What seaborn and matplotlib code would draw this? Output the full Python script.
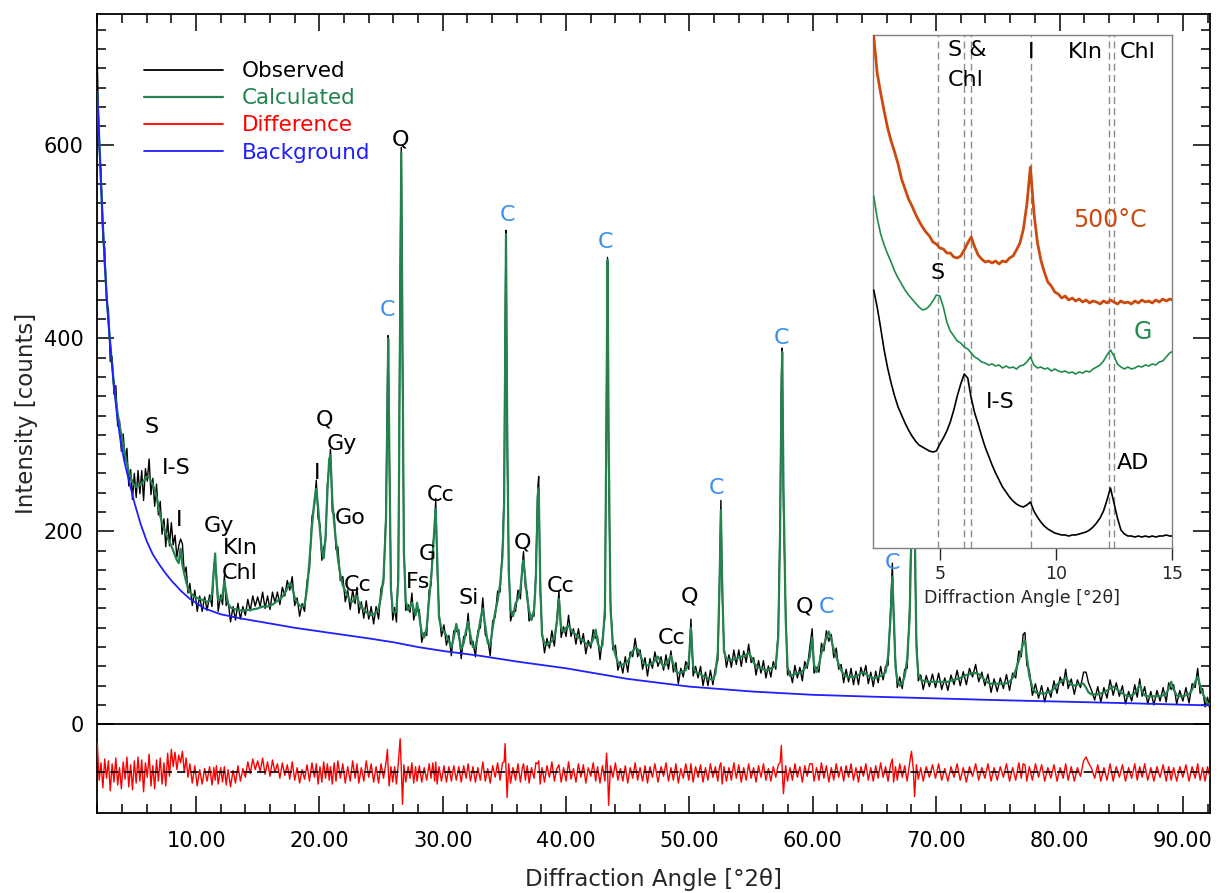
import numpy as np
import matplotlib
matplotlib.use("Agg")
import matplotlib.pyplot as plt
import seaborn as sns
from matplotlib.lines import Line2D
from matplotlib.ticker import MultipleLocator, FixedLocator, FormatStrFormatter

# ---------------- main pattern data ----------------
TWO_THETA = [
    2.00, 2.15, 2.30, 2.45, 2.60, 2.75, 2.90, 3.05, 3.20, 3.35,
    3.50, 3.65, 3.80, 3.95, 4.10, 4.25, 4.40, 4.55, 4.70, 4.85, 5.00,
    5.15, 5.30, 5.45, 5.60, 5.75, 5.90, 6.05, 6.20, 6.35, 6.50,
    6.65, 6.80, 6.95, 7.10, 7.25, 7.40, 7.55, 7.70, 7.85, 8.00,
    8.15, 8.30, 8.45, 8.60, 8.75, 8.90, 9.05, 9.20, 9.35, 9.50,
    9.70, 9.90, 10.10, 10.30, 10.50, 10.70, 10.90, 11.10, 11.30, 11.45,
    11.55, 11.65, 11.80, 12.00, 12.15, 12.30, 12.45, 12.60, 12.80, 13.00,
    13.20, 13.40, 13.60, 13.80, 14.00, 14.20, 14.40, 14.60, 14.80, 15.00,
    15.20, 15.40, 15.60, 15.80, 16.00, 16.20, 16.40, 16.60, 16.80, 17.00,
    17.20, 17.40, 17.60, 17.80, 18.00, 18.20, 18.40, 18.60, 18.80, 19.00,
    19.20, 19.40, 19.60, 19.75, 19.90, 20.05, 20.20, 20.35, 20.50, 20.65,
    20.80, 20.90, 21.05, 21.20, 21.35, 21.50, 21.70, 21.90, 22.10, 22.30,
    22.50, 22.70, 22.90, 23.05, 23.20, 23.40, 23.60, 23.80, 24.00, 24.20,
    24.40, 24.60, 24.80, 25.00, 25.20, 25.40, 25.52, 25.58, 25.66, 25.80,
    25.95, 26.10, 26.25, 26.40, 26.55, 26.64, 26.74, 26.85, 27.00, 27.20,
    27.35, 27.50, 27.65, 27.80, 27.92, 28.10, 28.30, 28.50, 28.70, 28.90,
    29.05, 29.20, 29.35, 29.43, 29.55, 29.70, 29.90, 30.10, 30.30, 30.50,
    30.70, 30.90, 31.10, 31.30, 31.50, 31.70, 31.90, 32.06, 32.25, 32.45,
    32.65, 32.85, 33.05, 33.25, 33.45, 33.65, 33.85, 34.05, 34.25, 34.45,
    34.65, 34.85, 34.98, 35.06, 35.13, 35.22, 35.35, 35.50, 35.70, 35.90,
    36.10, 36.30, 36.45, 36.55, 36.70, 36.85, 37.00, 37.20, 37.40, 37.55,
    37.70, 37.78, 37.90, 38.05, 38.25, 38.45, 38.65, 38.85, 39.05, 39.25,
    39.42, 39.60, 39.80, 40.00, 40.20, 40.40, 40.60, 40.80, 41.00, 41.20,
    41.40, 41.60, 41.80, 42.00, 42.20, 42.40, 42.55, 42.75, 42.95, 43.15,
    43.28, 43.36, 43.45, 43.60, 43.80, 44.00, 44.20, 44.40, 44.60, 44.80,
    45.00, 45.20, 45.40, 45.60, 45.80, 46.00, 46.20, 46.40, 46.60, 46.80,
    47.00, 47.20, 47.45, 47.70, 47.90, 48.10, 48.30, 48.50, 48.70, 48.90,
    49.10, 49.30, 49.50, 49.70, 49.95, 50.12, 50.30, 50.50, 50.70, 50.90,
    51.10, 51.30, 51.50, 51.70, 51.90, 52.10, 52.30, 52.45, 52.55, 52.65,
    52.80, 53.00, 53.20, 53.40, 53.60, 53.80, 54.00, 54.20, 54.40, 54.60,
    54.80, 55.00, 55.20, 55.40, 55.60, 55.80, 56.00, 56.20, 56.40, 56.60,
    56.80, 57.00, 57.20, 57.35, 57.45, 57.52, 57.62, 57.80, 57.95, 58.15,
    58.35, 58.55, 58.75, 58.95, 59.15, 59.35, 59.55, 59.75, 59.95, 60.10,
    60.30, 60.50, 60.70, 60.90, 61.10, 61.30, 61.50, 61.70, 61.90, 62.10,
    62.30, 62.50, 62.70, 62.90, 63.10, 63.30, 63.50, 63.70, 63.90, 64.10,
    64.30, 64.50, 64.70, 64.90, 65.10, 65.30, 65.50, 65.70, 65.90, 66.10,
    66.30, 66.45, 66.55, 66.70, 66.85, 67.05, 67.25, 67.45, 67.65, 67.85,
    68.00, 68.15, 68.25, 68.40, 68.55, 68.75, 68.95, 69.20, 69.45, 69.70,
    69.95, 70.20, 70.45, 70.70, 70.95, 71.20, 71.45, 71.70, 71.95, 72.20,
    72.45, 72.70, 72.95, 73.20, 73.45, 73.70, 73.95, 74.20, 74.45, 74.70,
    74.95, 75.20, 75.45, 75.70, 75.95, 76.20, 76.45, 76.70, 76.90, 77.05,
    77.20, 77.35, 77.55, 77.80, 78.05, 78.30, 78.55, 78.80, 79.05, 79.30,
    79.55, 79.80, 80.05, 80.30, 80.50, 80.70, 80.95, 81.20, 81.45, 81.70,
    81.95, 82.15, 82.35, 82.60, 82.85, 83.10, 83.35, 83.60, 83.85, 84.10,
    84.35, 84.60, 84.85, 85.10, 85.35, 85.60, 85.85, 86.10, 86.30, 86.50,
    86.70, 86.90, 87.15, 87.40, 87.65, 87.90, 88.15, 88.40, 88.65, 88.85,
    89.05, 89.25, 89.50, 89.75, 90.00, 90.25, 90.50, 90.75, 91.00, 91.20,
    91.40, 91.60, 91.80, 92.00, 92.20,
]

CALCULATED = [
    655, 608, 562, 518, 480, 445, 418, 395, 372, 352,
    336, 322, 310, 300, 290, 280, 270, 262, 256, 251, 248,
    246, 247, 248, 250, 252, 255, 257, 256, 252, 248,
    243, 236, 226, 216, 209, 203, 198, 193, 189, 185,
    180, 175, 170, 167, 182, 165, 156, 148, 141, 137,
    134, 132, 131, 130, 129, 128, 127, 128, 135, 160,
    177, 150, 129, 129, 134, 148, 136, 125, 121, 120,
    119, 118.5, 118, 118, 118, 118.5, 118.5, 119, 119.5, 120,
    121, 122, 122, 122, 123, 124, 126, 128, 130, 132,
    136, 141, 146, 142, 131, 126, 123, 122, 124, 140,
    170, 205, 232, 244, 225, 201, 180, 172, 195, 240,
    275, 279, 232, 208, 190, 172, 155, 144, 138, 133,
    128, 127, 131, 133, 126, 122, 119, 116, 114, 113,
    114, 116, 120, 132, 152, 210, 330, 400, 300, 140,
    118, 115, 118, 150, 430, 593, 400, 180, 128, 118,
    122, 126, 119, 113, 126, 112, 95, 90, 100, 130,
    150, 176, 210, 223, 175, 110, 100, 96, 92, 86,
    80, 90, 104, 92, 78, 84, 98, 106, 92, 80,
    80, 92, 108, 120, 102, 84, 82, 100, 116, 128,
    145, 175, 230, 380, 508, 320, 160, 118, 112, 125,
    130, 140, 160, 170, 150, 130, 118, 108, 118, 150,
    235, 245, 150, 92, 84, 82, 84, 86, 90, 105,
    130, 100, 96, 100, 102, 98, 95, 93, 90, 88,
    86, 84, 82, 83, 88, 98, 85, 78, 82, 120,
    330, 481, 300, 120, 82, 72, 64, 61, 62, 63,
    65, 70, 76, 79, 78, 72, 66, 62, 61, 62,
    63, 66, 70, 64, 60, 62, 66, 71, 62, 55,
    53, 54, 55, 56, 65, 100, 60, 54, 53, 52,
    50, 49, 48, 47, 46, 52, 75, 150, 222, 150,
    75, 68, 67, 67, 67, 68, 69, 70, 71, 72,
    74, 70, 64, 61, 59, 58, 57, 56, 56.5, 58,
    59, 62, 90, 200, 330, 386, 250, 110, 60, 50,
    51, 52, 53, 53, 55, 58, 62, 70, 90, 62,
    54, 62, 74, 82, 90, 96, 88, 77, 70, 62,
    56, 52, 50, 49, 49, 49, 50, 51, 53, 54,
    52, 50, 49, 48, 48, 49, 50, 51, 54, 70,
    110, 153, 120, 60, 46, 40, 42, 50, 67, 110,
    200, 300, 220, 80, 52, 46, 45, 44.5, 44, 44,
    44, 44, 44, 44, 44, 45, 46, 47, 48, 49.5,
    51, 52, 53, 53, 52, 49, 46, 43, 42, 42,
    42, 42, 42, 42.5, 44, 48, 56, 66, 76, 84,
    87, 70, 50, 38, 33, 32, 32, 32, 33, 34,
    37, 41, 44, 46, 48, 45, 41, 40, 41, 42,
    42, 38, 33, 31, 31, 31, 32, 33, 35, 37,
    39, 37, 34, 32, 30, 29, 30, 32, 36, 41,
    34, 30, 29, 29, 29, 29, 29, 30, 32, 37,
    44, 36, 30, 29, 29, 30, 31, 36, 44, 49,
    40, 32, 27, 22, 20,
]

DIFFERENCE = [
    30, -8, 10, -16, 14, -6, 12, -19, 9, -10,
    15, -13, 5, -17, 11, -7, 16, -15, 8, -18, 12,
    -11, 16, -9, 13, -20, 10, -5, 19, -14, 7,
    -17, 13, -9, 15, -12, 10, -14, 20, -4, 24,
    6, 21, 3, 18, 10, 22, 0, 15, -5, 9,
    -11, 7, -14, 3, -12, 4, -9, 6, -13, 5,
    -8, 7, -12, 5, -10, 6, -13, 3, -15, 2,
    -11, 7, -9, 4, -5, 11, -1, 14, 3, 12,
    1, 15, -2, 11, -4, 13, 0, 9, -6, 10,
    -3, 8, -7, 11, -8, 5, -11, 3, -7, 8,
    -9, 10, -5, 9, -12, 6, -10, 11, -6, 9,
    -8, 6, -12, 10, -9, 12, -6, 9, -11, 6,
    -9, 12, -6, 9, -11, 5, -9, 12, -5, 9,
    -10, 6, -11, 9, -6, 10, 24, 3, -14, 6,
    -10, 6, -12, 10, 35, 5, -33, 8, -10, 6,
    -6, 10, -11, 6, -9, 7, -10, 5, -8, 9,
    -6, 10, -9, 11, -12, 6, -9, 7, -10, 6,
    -9, 7, -8, 6, -10, 7, -6, 9, -9, 6,
    -10, 5, -8, 11, -9, 4, -11, 7, -5, 10,
    -8, 10, 11, 30, 4, -26, 9, -11, 5, -8,
    9, -10, 5, 9, -8, 7, -11, 5, -6, 10,
    9, 12, -12, 5, -10, 7, -5, 11, -9, 4,
    8, -10, 5, -9, 11, -7, 4, -10, 9, -5,
    8, -11, 5, -4, 10, -9, 6, -11, 7, -9,
    20, 3, -34, 7, -5, 10, -8, 4, -9, 7,
    -11, 5, -6, 10, -8, 5, -9, 7, -11, 6,
    -5, 9, -10, 6, -4, 10, -9, 5, -8, 9,
    -11, 4, -6, 9, -8, 9, -10, 6, -5, 8,
    -10, 5, -8, 9, -5, 6, -9, 7, 10, -12,
    6, -9, 5, -8, 10, -6, 8, -10, 5, -8,
    9, -6, 5, -10, 7, -5, 9, -8, 4, -9,
    6, -5, 8, 10, 28, 4, -22, 7, -9, 5,
    -8, 9, -5, 6, -10, 7, -4, 9, 9, -9,
    5, -8, 10, -6, 7, -10, 5, -8, 9, -5,
    6, -9, 7, -5, 9, -8, 5, -10, 6, -4,
    9, -8, 5, -9, 7, -6, 10, -5, 6, -9,
    8, 14, -10, 6, -8, 9, -5, 7, -9, 10,
    22, 3, -25, 8, -7, 5, -9, 6, -5, 8,
    -6, 9, -8, 4, -9, 6, -5, 9, -8, 5,
    -10, 6, -4, 9, -8, 5, -6, 9, -9, 5,
    -8, 6, -5, 9, -9, 5, -8, 10, -6, 9,
    8, -9, 6, -8, 9, -5, 8, -9, 5, -6,
    8, -9, 5, -6, 9, -8, 6, -9, 5, -4,
    12, 16, 10, 4, -6, 8, -9, 5, -8, 9,
    -9, 6, -5, 8, -9, 5, -6, 9, -8, 6,
    -5, 9, -8, 5, -9, 6, -5, 8, -9, 6,
    -8, 5, -9, 6, -5, 8, -9, 6, -6, 9,
    -8, 5, -9, 6, -5,
]

BG_THETA = [2.0, 2.2, 2.4, 2.6, 2.8, 3.0, 3.3, 3.6, 3.9, 4.2, 4.5, 5.0, 5.5,
            6.0, 6.5, 7.0, 7.5, 8.0, 8.8, 9.5, 10.7, 12.0, 13.5, 15.3, 18.0,
            20.7, 24.0, 26.0, 28.0, 30.0, 33.0, 36.0, 40.0, 45.0, 50.0, 55.0,
            60.0, 65.0, 70.0, 75.0, 80.0, 85.0, 92.2]
BACKGROUND = [655, 590, 530, 478, 435, 400, 357, 320, 292, 272, 256, 230, 208,
              190, 176, 166, 157, 149, 138, 130, 120, 114, 110, 106, 100,
              95, 89, 85, 80, 76, 71, 65, 58, 47, 39, 34,
              30.5, 28.5, 26.8, 25, 23.5, 22, 19.5]

DIFF_OFFSET = -50

PHASE_LABELS = ["S", "I-S", "I", "Gy", "Kln", "Chl", "Q", "Gy", "I", "Go", "Cc",
                "Q", "Fs", "G", "Cc", "Si", "Q", "Cc", "Cc", "Q", "Q"]
PHASE_X = [6.43, 8.38, 8.62, 11.86, 13.56, 13.56, 20.45, 21.83, 19.8, 22.48, 23.13,
           26.61, 27.99, 28.72, 29.85, 32.12, 36.5, 39.58, 48.57, 50.03, 59.35]
PHASE_Y = [308, 266, 212, 205, 183, 157, 316, 291, 260, 214, 144.5,
           606, 147.6, 176.6, 237.8, 131, 188, 143.4, 89.5, 132, 121.7]
STD_X = [25.56, 35.28, 43.22, 52.2, 57.48, 61.13, 66.48]
STD_Y = [429, 528, 500, 245, 400.6, 121.7, 167]

# ---------------- inset data (oriented clay mounts) ----------------
INSET_X = np.round(2.15 + 0.15 * np.arange(87), 2)
HEATED_500C = [
    512, 475, 455, 437, 420, 407, 396, 384, 369, 359,
    349, 342, 334, 327, 321, 316, 312, 306, 304, 300,
    299, 295, 295, 291, 290, 292, 298, 305, 311, 301,
    293, 289, 286, 287, 285, 287, 284, 287, 286, 290,
    292, 298, 305, 319, 344, 381, 336, 306, 288, 276,
    266, 262, 256, 254, 250, 252, 248, 250, 247, 249,
    246, 248, 245, 247, 246, 244, 247, 245, 248, 246,
    244, 247, 245, 246, 244, 247, 245, 248, 246, 247,
    245, 248, 246, 249, 247, 249, 248,
]
GLYCOLATED = [
    352, 330, 314, 303, 294, 286, 277, 270, 264, 258,
    253, 249, 245, 241, 238, 239, 242, 247, 253, 252,
    241, 226, 217, 212, 207, 205, 201, 199, 195, 191,
    189, 186, 185, 183, 184, 182, 183, 180, 182, 180,
    181, 179, 182, 183, 186, 191, 183, 180, 181, 179,
    180, 177, 179, 177, 176, 177, 175, 176, 174, 176,
    175, 177, 176, 179, 181, 183, 187, 193, 198, 192,
    184, 181, 179, 181, 179, 180, 182, 181, 183, 182,
    184, 183, 186, 187, 191, 195, 197,
]
AIR_DRIED = [
    258, 241, 220, 198, 180, 165, 152, 141, 133, 125,
    118, 112, 107, 103, 101, 99, 97, 96, 97, 104,
    110, 117, 126, 138, 152, 164, 174, 170, 150, 135,
    124, 112, 101, 92, 83, 75, 68, 61, 56, 51,
    47, 44, 42, 41, 43, 46, 37, 31, 26, 22,
    19, 17, 15, 14, 13, 13, 12, 13, 13, 14,
    15, 16, 18, 21, 25, 30, 37, 48, 60, 45,
    30, 18, 14, 12, 12, 11, 12, 11, 12, 11,
    12, 11, 12, 12, 13, 12, 12,
]
REF_LINES = [4.9, 6.04, 6.33, 8.92, 12.3, 12.51]
INSET_LABELS = ["S &", "Chl", "I", "Kln", "Chl", "S", "I-S", "AD"]
INSET_LABEL_X = [5.35, 5.35, 8.92, 11.26, 13.54, 4.88, 7.6, 13.33]
INSET_LABEL_Y = [498, 468, 496, 496, 496, 275, 146, 85]
INSET_LABEL_HA = ["left", "left", "center", "center", "center", "center", "center", "center"]

# ---------------- styling ----------------
sns.set_style("ticks")
plt.rcParams["font.family"] = ["DejaVu Sans"]

GREEN = "#23834f"
BLUE = "#1f1fff"
RED = "#ff0000"
CBLUE = "#3b8ef0"
ORANGE = "#cc4a0e"
IGREEN = "#1e8c4a"
FS = 15

fig = plt.figure(figsize=(12.21, 8.93), dpi=100)
ax = fig.add_axes([0.0797, 0.0896, 0.9113, 0.8944])

calc = np.array(CALCULATED, dtype=float)
diff = np.array(DIFFERENCE, dtype=float)
obs = calc + diff
assert len(TWO_THETA) == len(calc) == len(diff)

sns.lineplot(x=TWO_THETA, y=obs, ax=ax, color="black", lw=1.0,
             estimator=None, sort=False, zorder=2)
sns.lineplot(x=TWO_THETA, y=calc, ax=ax, color=GREEN, lw=1.6,
             estimator=None, sort=False, zorder=3)
sns.lineplot(x=BG_THETA, y=BACKGROUND, ax=ax, color=BLUE, lw=1.3,
             estimator=None, sort=False, zorder=4)
sns.lineplot(x=TWO_THETA, y=diff + DIFF_OFFSET, ax=ax, color=RED, lw=1.0,
             estimator=None, sort=False, zorder=3)
ax.axhline(DIFF_OFFSET, color="black", lw=1.2, ls=(0, (5, 3)), zorder=4)
ax.axhline(0, color="black", lw=1.3, zorder=5)

for lab, x, y in zip(PHASE_LABELS, PHASE_X, PHASE_Y):
    ax.text(x, y, lab, ha="center", va="center", fontsize=16, color="black", zorder=6)
for x, y in zip(STD_X, STD_Y):
    ax.text(x, y, "C", ha="center", va="center", fontsize=16, color=CBLUE, zorder=6)

ax.set_xlim(2, 92.2)
ax.set_ylim(-92, 736)
ax.xaxis.set_major_locator(MultipleLocator(10))
ax.xaxis.set_minor_locator(MultipleLocator(2))
ax.xaxis.set_major_formatter(FormatStrFormatter("%.2f"))
ax.yaxis.set_major_locator(FixedLocator([0, 200, 400, 600]))
ax.yaxis.set_minor_locator(FixedLocator([v for v in range(20, 740, 20) if v % 200]))
ax.tick_params(which="both", direction="in", top=True, right=True, width=1.1,
               labelsize=FS, colors="black")
ax.tick_params(which="major", length=12)
ax.tick_params(which="minor", length=6.5)
ax.tick_params(axis="x", pad=13)
ax.tick_params(axis="y", pad=10)
for s in ax.spines.values():
    s.set_linewidth(1.3)
    s.set_color("black")
ax.set_xlabel("Diffraction Angle [°2θ]", fontsize=16.5, labelpad=12)
ax.set_ylabel("Intensity [counts]", fontsize=16.5, labelpad=4)

handles = [Line2D([], [], color="black", lw=1.3),
           Line2D([], [], color=GREEN, lw=1.6),
           Line2D([], [], color=RED, lw=1.3),
           Line2D([], [], color=BLUE, lw=1.3)]
ax.legend(handles, ["Observed", "Calculated", "Difference", "Background"],
          loc="upper left", bbox_to_anchor=(0.034, 0.952), frameon=False,
          fontsize=15.5, handlelength=3.7, handletextpad=0.85, labelspacing=0.33,
          labelcolor="linecolor", borderaxespad=0)

# ---------------- inset ----------------
axin = fig.add_axes([873 / 1221, 1 - 548 / 893, 299 / 1221, 513 / 893], zorder=10)
axin.set_facecolor("white")
for xv in REF_LINES:
    axin.axvline(xv, color="#8a8a8a", lw=1.0, ls=(0, (5, 3)), zorder=1)
sns.lineplot(x=INSET_X, y=HEATED_500C, ax=axin, color=ORANGE, lw=2.0,
             estimator=None, sort=False, zorder=3)
sns.lineplot(x=INSET_X, y=GLYCOLATED, ax=axin, color=IGREEN, lw=1.2,
             estimator=None, sort=False, zorder=3)
sns.lineplot(x=INSET_X, y=AIR_DRIED, ax=axin, color="black", lw=1.2,
             estimator=None, sort=False, zorder=3)
for lab, x, y, ha in zip(INSET_LABELS, INSET_LABEL_X, INSET_LABEL_Y, INSET_LABEL_HA):
    axin.text(x, y, lab, ha=ha, va="center", fontsize=16, color="black", zorder=5)
axin.text(12.33, 328, "500°C", ha="center", va="center", fontsize=17, color=ORANGE, zorder=5)
axin.text(13.76, 216, "G", ha="center", va="center", fontsize=17, color=IGREEN, zorder=5)

axin.set_xlim(2.12, 15)
axin.set_ylim(0, 513)
axin.set_xticks([5, 10, 15])
axin.set_yticks([])
axin.tick_params(axis="x", direction="out", length=8.5, width=1, labelsize=12.5, pad=4)
for s in axin.spines.values():
    s.set_color("#808080")
    s.set_linewidth(1.0)
axin.set_xlabel("Diffraction Angle [°2θ]", fontsize=12.5, labelpad=4)

fig.savefig("out.png", dpi=100)
